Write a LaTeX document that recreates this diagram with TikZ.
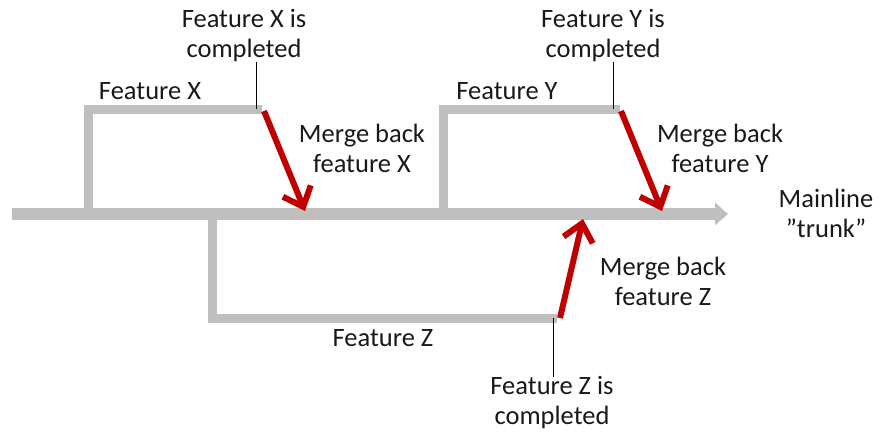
\documentclass[tikz,border=0pt]{standalone}
\usepackage{fontspec}
\setmainfont{Carlito}
\usetikzlibrary{arrows.meta}
\definecolor{trunkgray}{HTML}{BFBFBF}
\definecolor{mergered}{HTML}{C00000}
\begin{document}
\begin{tikzpicture}[x=1pt,y=-1pt,line join=miter,
	txt/.style={align=center,font=\fontsize{26.5}{30}\selectfont,inner sep=0pt,text=black!90},
	branch/.style={draw=trunkgray,line width=9pt},
	merge/.style={draw=mergered,line width=6pt,-{Straight Barb[length=17pt,width=30pt,line width=6pt]}},
	tick/.style={draw=black,line width=0.8pt}]
	\useasboundingbox (0,0) rectangle (891,434);
	\def\ytr{214} \def\yup{109} \def\ydn{318} % Hoehen
	
	% Hauptlinie
	\coordinate (t0) at (12,\ytr); \coordinate (t1) at (728,\ytr);
	\draw[draw=trunkgray,line width=12pt,-{Triangle[length=13pt,width=22pt]}] (t0)--(t1);
	
	% Zweige
	\coordinate (x0) at (88,\ytr); \coordinate (x1) at (262,\yup);
	\coordinate (y0) at (443,\ytr); \coordinate (y1) at (620,\yup);
	\coordinate (z0) at (212,\ytr); \coordinate (z1) at (557,\ydn);
	\draw[branch] (x0)|-(x1) (y0)|-(y1) (z0)|-(z1);
	
	% Merge-Pfeile
	\coordinate (mx) at (305,211); \coordinate (my) at (662,211);
	\coordinate (mz) at (583,219); \coordinate (zs) at (560,\ydn);
	\draw[merge] (264,111)--(mx);
	\draw[merge] (621,111)--(my);
	\draw[merge] (zs)--(mz);
	
	% Texte
	\node[txt] (cx) at (244,36) {Feature X is\\completed};
	\node[txt] (fx) at (150,91) {Feature X};
	\node[txt] (bx) at (362,148) {Merge back\\feature X};
	\node[txt] (cy) at (603,36) {Feature Y is\\completed};
	\node[txt] (fy) at (507,91) {Feature Y};
	\node[txt] (by) at (720,148) {Merge back\\feature Y};
	\node[txt] (tr) at (826,213) {Mainline\\”trunk”};
	\node[txt] (bz) at (663,281) {Merge back\\feature Z};
	\node[txt] (fz) at (383,338) {Feature Z};
	\node[txt] (cz) at (552,403) {Feature Z is\\completed};
	
	% Markierungen
	\draw[tick] (cx.south -| 256,0)--(256,\yup);
	\draw[tick] (cy.south -| 613,0)--(613,\yup);
	\draw[tick] (553,\ydn)--(cz.north -| 553,0);
\end{tikzpicture}
\end{document}
